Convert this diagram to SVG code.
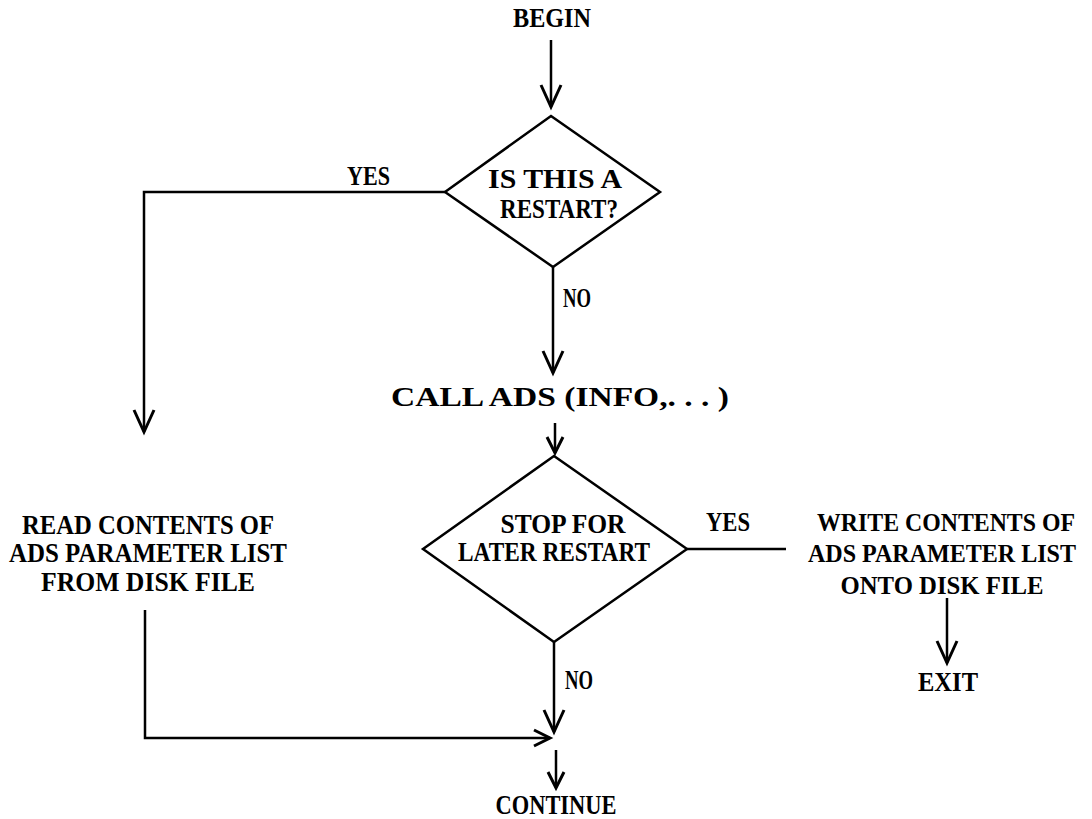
<svg xmlns="http://www.w3.org/2000/svg" width="1092" height="819" viewBox="0 0 1092 819">
<style>
  text { font-family: "Liberation Serif", "Times New Roman", serif; font-weight: bold; font-size: 27px; fill: #000; }
  .c { text-anchor: middle; }
  .r { font-size: 25px; }
  .shape { fill: none; stroke: #000; stroke-width: 2.5; stroke-linejoin: miter; }
  .conn { fill: none; stroke: #000; stroke-width: 2.5; }
</style>
<defs>
  <marker id="arr" markerUnits="userSpaceOnUse" markerWidth="30" markerHeight="30" viewBox="-26 -12 30 24" refX="0" refY="0" orient="auto">
    <path d="M-22,-10 L0,0 L-22,10" fill="none" stroke="#000" stroke-width="3"/>
  </marker>
  <marker id="arrs" markerUnits="userSpaceOnUse" markerWidth="30" markerHeight="30" viewBox="-26 -12 30 24" refX="0" refY="0" orient="auto">
    <path d="M-16,-8 L0,0 L-16,8" fill="none" stroke="#000" stroke-width="3"/>
  </marker>
</defs>

<g id="begin"><text class="c" x="552" y="27" textLength="78" lengthAdjust="spacingAndGlyphs">BEGIN</text></g>

<g id="restart-decision">
  <polygon class="shape" points="551,116 660,192 553,267 445,192"/>
  <text class="c" x="555" y="188" textLength="134" lengthAdjust="spacingAndGlyphs">IS THIS A</text>
  <text class="c" x="559" y="218" textLength="118" lengthAdjust="spacingAndGlyphs">RESTART?</text>
</g>

<g id="call-ads"><text class="c" x="560" y="406" textLength="338" lengthAdjust="spacingAndGlyphs">CALL ADS (INFO,. . . )</text></g>

<g id="stop-decision">
  <polygon class="shape" points="554,456 687,549 554,642 423,549"/>
  <text class="c" x="563" y="533" textLength="125" lengthAdjust="spacingAndGlyphs">STOP FOR</text>
  <text class="c" x="554" y="561" textLength="192" lengthAdjust="spacingAndGlyphs">LATER RESTART</text>
</g>

<g id="read-contents">
  <text class="c" x="148" y="534" textLength="252" lengthAdjust="spacingAndGlyphs">READ CONTENTS OF</text>
  <text class="c" x="148" y="562" textLength="278" lengthAdjust="spacingAndGlyphs">ADS PARAMETER LIST</text>
  <text class="c" x="148" y="591" textLength="214" lengthAdjust="spacingAndGlyphs">FROM DISK FILE</text>
</g>

<g id="write-contents">
  <text class="c r" x="946" y="531" textLength="258" lengthAdjust="spacingAndGlyphs">WRITE CONTENTS OF</text>
  <text class="c r" x="942" y="562" textLength="268" lengthAdjust="spacingAndGlyphs">ADS PARAMETER LIST</text>
  <text class="c r" x="942" y="594" textLength="203" lengthAdjust="spacingAndGlyphs">ONTO DISK FILE</text>
</g>

<g id="exit"><text class="c" x="948" y="691" textLength="60" lengthAdjust="spacingAndGlyphs">EXIT</text></g>

<g id="continue"><text class="c" x="556" y="814" textLength="121" lengthAdjust="spacingAndGlyphs">CONTINUE</text></g>

<g id="connectors">
  <line class="conn" x1="551" y1="40" x2="551" y2="107" marker-end="url(#arr)"/>
  <polyline class="conn" points="445,192 144,192 144,432" marker-end="url(#arr)"/>
  <line class="conn" x1="553" y1="267" x2="553" y2="373" marker-end="url(#arr)"/>
  <line class="conn" x1="555" y1="423" x2="555" y2="453" marker-end="url(#arrs)"/>
  <line class="conn" x1="687" y1="549" x2="786" y2="549"/>
  <line class="conn" x1="947" y1="598" x2="947" y2="663" marker-end="url(#arr)"/>
  <line class="conn" x1="554" y1="642" x2="554" y2="732" marker-end="url(#arr)"/>
  <polyline class="conn" points="145,610 145,738 550,738" marker-end="url(#arrs)"/>
  <line class="conn" x1="556" y1="750" x2="556" y2="788" marker-end="url(#arrs)"/>
  <text x="347" y="185" textLength="43" lengthAdjust="spacingAndGlyphs">YES</text>
  <text x="563" y="307" textLength="28" lengthAdjust="spacingAndGlyphs">NO</text>
  <text x="706" y="531" textLength="44" lengthAdjust="spacingAndGlyphs">YES</text>
  <text x="565" y="689" textLength="28" lengthAdjust="spacingAndGlyphs">NO</text>
</g>
</svg>
